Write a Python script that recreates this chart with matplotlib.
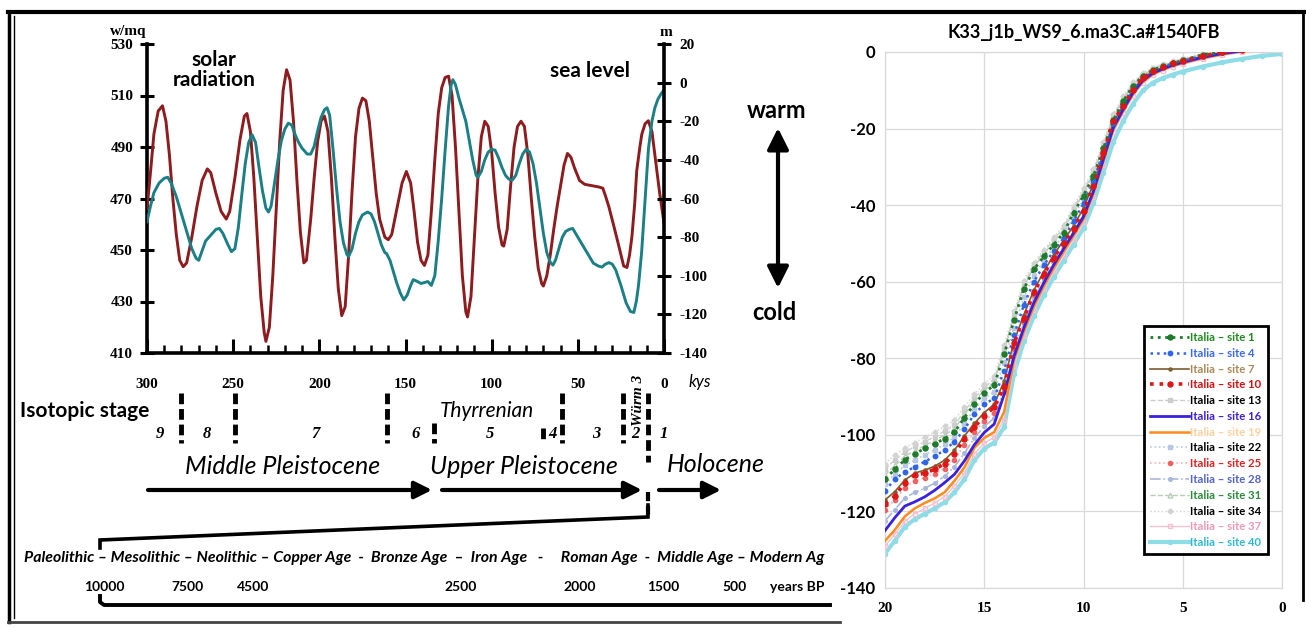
import matplotlib
matplotlib.use('Agg')
import matplotlib.pyplot as plt
import matplotlib.transforms as mtransforms
from matplotlib.ticker import MultipleLocator

plt.rcParams['axes.unicode_minus'] = False

W, H = 1306, 628
fig = plt.figure(figsize=(W / 100, H / 100), dpi=100)
fig.patch.set_facecolor('white')

SANS = ['Lato', 'DejaVu Sans']
SERIF = ['Liberation Serif', 'DejaVu Serif']

# ---------------- data: left chart ----------------
solar_ky = [300, 298, 296, 293.5, 291, 289, 287, 285, 283, 281, 279, 277, 274, 271, 268, 265, 263, 260,
            257, 254, 252, 249, 246, 243.5, 242, 240, 238, 236, 234, 232, 231, 229, 227, 225, 223, 221,
            219, 217, 215, 213, 211, 209, 207.5, 205, 203, 201, 199, 197, 195, 193, 191, 189, 187, 185,
            183, 181, 179, 177, 175, 173, 171, 169, 167, 165, 162, 160, 158, 155, 152, 149.5, 147, 145,
            143, 141, 139, 137, 135, 133, 131, 129, 127, 125, 123, 121, 119, 117, 115, 114, 112, 110,
            108, 106, 104, 102, 100, 98, 96, 94, 93, 91, 89, 87, 85, 83, 81, 79, 77, 75, 73, 71, 70,
            68, 66, 64, 62, 60, 58, 56, 54, 52, 49, 46, 42, 38, 35.5, 33.8, 32, 29, 26.2, 23.4, 21.5,
            20, 18.6, 17, 15.8, 14, 12.9, 11, 9.1, 7, 5.3, 4, 2.5, 0]
solar_wmq = [466, 480, 495, 504, 506, 500, 487, 470, 456, 446, 443.5, 445, 455, 467, 477, 481.5, 480, 472,
             465, 462, 465, 478, 493, 502, 503, 496, 478, 455, 432, 418, 414.5, 420, 440, 466, 492, 512,
             520, 516, 500, 477, 457, 445, 446, 462, 478, 492, 500, 502, 496, 478, 455, 435, 424.5, 428,
             448, 473, 494, 505, 509, 508, 500, 486, 472, 462, 455, 454, 456, 466, 476, 480.5, 476, 465,
             453, 446, 444, 448, 465, 485, 503, 513, 517, 517.5, 510, 490, 465, 440, 426, 424, 432, 455,
             478, 494, 500, 498, 488, 472, 459, 452, 451.5, 458, 475, 490, 498, 500, 498, 487, 470, 455,
             443, 437, 436, 440, 448, 458, 467, 475, 483, 487.5, 486, 482, 477, 475.5, 475, 474.5, 474,
             470.7, 466.8, 459, 451.5, 443.8, 443.2, 448, 455.3, 468, 480.9, 490, 494.9, 499, 500.2, 496,
             487, 480, 472, 460.5]

sea_ky = [300, 298, 296, 293, 290, 288, 286, 283, 280, 277, 274, 271.5, 270, 268, 266, 263, 260, 258, 256,
          253, 251, 249, 247, 245, 243, 241, 239, 237, 235, 233, 231, 229.5, 228, 226, 224, 222, 220, 218,
          216, 214, 212, 210, 207, 205, 203, 201, 199, 197, 195.5, 194, 192, 190, 188, 186, 184, 183, 181,
          179, 177, 175, 172, 170, 168, 166, 164, 162, 161, 159, 157, 155, 153, 151, 149, 147, 145.5, 143,
          141, 139, 137, 135, 133, 131, 129, 127, 125, 123.5, 122.5, 121, 119, 117, 115, 113, 111, 109,
          108, 106, 104, 102, 100, 98, 96, 94, 92, 90, 88, 86, 84, 82, 80, 78, 76, 74, 72, 70, 68, 66,
          64.5, 63, 61, 59, 57, 55, 53, 50, 46, 44, 41, 38, 36, 34, 32, 30, 28, 25, 22, 19.5, 17.5, 16,
          14.8, 13, 11, 9, 7, 5.3, 3.5, 1.5, 0]
sea_m = [-72, -64, -57, -52, -49.5, -49, -52, -59, -68, -77, -86, -91, -92, -87, -82, -79, -76, -75.5, -78,
         -84, -87.5, -86, -75, -58, -42, -31, -27, -31, -44, -56, -65, -67, -64, -52, -40, -30, -24, -21,
         -22, -27, -31, -34, -37, -37, -33, -25, -18, -14, -13, -17, -35, -55, -72, -83, -89, -90, -86,
         -78, -72, -68.5, -67, -68, -72, -78, -84, -88, -88.5, -92, -98, -104, -109, -112.5, -110, -105,
         -102, -103, -104, -103.5, -103, -105, -100, -82, -60, -35, -12, -1, 1.5, -1, -8, -14, -20, -30,
         -40, -48, -49, -46, -40, -36, -34.5, -35, -39, -44, -48, -50, -50.5, -48, -42, -37, -34.5, -36,
         -42, -52, -65, -78, -88, -93, -94.5, -92, -86, -80, -77, -76, -75.5, -80, -86, -89, -93.5, -95,
         -95.5, -94, -93.2, -94, -97, -105, -114, -118.5, -119, -113, -105, -88, -61, -34, -20, -13, -8.5,
         -5.5, -4]

stage_bounds_ky = [280.3, 248.9, 160.7, 133.5, 70.2, 59.2, 23.8, 9.3]
stage_names = ['9', '8', '7', '6', '5', '4', '3', '2', '1']
stage_label_ky = [292.5, 265.2, 202.5, 143.9, 101, 64.5, 39.4, 16.8, 0]

periods_text = ("Paleolithic – Mesolithic – Neolithic – Copper Age  -  Bronze Age  –  Iron Age   -     "
                "Roman Age  -  Middle Age – Modern Ag")
years_bp = ['10000', '7500', '4500', '2500', '2000', '1500', '500']

# ---------------- data: right chart ----------------
kyr = [20, 19.5, 19, 18.5, 18, 17.5, 17, 16.5, 16, 15.5, 15, 14.5, 14, 13.5, 13, 12.5, 12, 11.5, 11,
       10.5, 10, 9.5, 9, 8.5, 8, 7.5, 7, 6.5, 6, 5.5, 5, 4, 3, 2, 1, 0]
site_names = ['Italia – site 1', 'Italia – site 4', 'Italia – site 7', 'Italia – site 10',
              'Italia – site 13', 'Italia – site 16', 'Italia – site 19', 'Italia – site 22',
              'Italia – site 25', 'Italia – site 28', 'Italia – site 31', 'Italia – site 34',
              'Italia – site 37', 'Italia – site 40']
site1 = [-111.5, -109, -106.5, -105, -103.5, -102.3, -101, -99.3, -95.5, -92, -89, -87, -79, -70, -61.8,
         -56.8, -53.4, -50.3, -47.2, -42, -37.5, -32.4, -25.2, -17.8, -12.8, -8.8, -6.2, -4.7, -3.7, -2.9,
         -2.2, -0.7, 0.1, 0.8, 1.3, 1.3]
site4 = [-114.6, -111.6, -109.6, -108.4, -107, -105.6, -104, -101.8, -98.5, -94.6, -92, -90.5, -83.2, -74,
         -66, -60, -55.7, -52, -48.6, -44.2, -39.5, -33.8, -26, -18.6, -13.5, -9.4, -6.5, -4.9, -3.9, -3,
         -2.3, -1, 0, 0.7, 1.1, 1.2]
site7 = [-117, -114.8, -111.8, -110, -109.2, -108.2, -106.6, -104, -100.3, -97, -94.2, -92, -86, -75.5,
         -68.6, -62.2, -57.4, -53, -49.2, -45.4, -40.8, -34.4, -26.4, -18.4, -14, -9.8, -6.8, -5.1, -4,
         -3.1, -2.4, -1.1, -0.1, 0.5, 0.9, 1.0]
site10 = [-118, -116, -112.5, -110.5, -110, -109, -107.5, -105, -101, -98, -95, -92.8, -87.5, -76, -69.5,
          -62.8, -58, -53.7, -50, -46.2, -41.5, -35, -26.5, -18, -14.2, -9.8, -6.8, -5, -4, -3, -2.3,
          -1.1, 0, 0.6, 1, 1.1]
site13 = [-109, -106.5, -104.5, -103, -101.8, -100.5, -99, -97.4, -93.8, -90.4, -87.6, -85.4, -77.6,
          -68.6, -60.6, -55.6, -52.2, -49, -45.8, -40.8, -36.2, -31.2, -24, -16.8, -12, -8.2, -5.7, -4.3,
          -3.3, -2.6, -1.9, -0.5, 0.3, 1, 1.4, 1.4]
site16 = [-125, -121.6, -118.6, -117.5, -116.2, -114.5, -112.5, -110.3, -106.8, -102.6, -99.4, -97.2,
          -89.5, -79.5, -72, -65.5, -60.3, -55.6, -51.4, -47.3, -43, -36.4, -28, -19.8, -15, -10.6, -7.4,
          -5.5, -4.4, -3.4, -2.7, -1.4, -0.4, 0.3, 0.8, 1.0]
site19 = [-127.7, -124.8, -121.3, -119.2, -117.8, -116.6, -115, -112, -108.5, -103.4, -100.8, -99.3, -94,
          -80.5, -73, -66.5, -61.2, -56.5, -52.2, -48, -43.7, -37, -28.6, -20.3, -15.4, -11, -7.7, -5.8,
          -4.6, -3.6, -2.9, -1.6, -0.6, 0.2, 0.7, 0.9]
site22 = [-112.8, -110.2, -108, -106.6, -105.2, -104, -102.5, -100.5, -97, -93.3, -90.5, -88.7, -81, -72,
          -64, -58.4, -54.5, -51, -47.8, -43, -38.5, -33, -25.6, -18.2, -13.1, -9.1, -6.3, -4.8, -3.8,
          -2.9, -2.2, -0.8, 0, 0.8, 1.2, 1.2]
site25 = [-119.5, -117, -113.8, -112, -111.2, -110.2, -108.8, -106.5, -102.6, -99.3, -96.4, -94.2, -88.8,
          -77.5, -70.5, -63.6, -58.8, -54.4, -50.6, -46.8, -42.2, -35.6, -27, -18.8, -14.6, -10.1, -7,
          -5.2, -4.1, -3.2, -2.5, -1.2, -0.2, 0.5, 0.9, 1.0]
site28 = [-122.5, -119.5, -116.5, -115, -114, -112.6, -110.8, -108.3, -104.8, -100.8, -97.8, -95.6, -88.6,
          -78.5, -71.2, -64.5, -59.5, -55, -51, -47, -42.6, -36, -27.6, -19.4, -14.8, -10.4, -7.2, -5.4,
          -4.3, -3.3, -2.6, -1.3, -0.3, 0.4, 0.8, 1.0]
site31 = [-110.5, -108, -105.6, -104.2, -102.8, -101.5, -100, -98.4, -94.7, -91.2, -88.3, -86.2, -78.3,
          -69.3, -61.2, -56.2, -52.8, -49.6, -46.5, -41.4, -36.8, -31.8, -24.6, -17.3, -12.4, -8.5, -6,
          -4.5, -3.5, -2.7, -2, -0.6, 0.2, 0.9, 1.3, 1.3]
site34 = [-107.5, -105.2, -103.4, -102, -100.6, -99.3, -97.8, -96.2, -92.6, -89.4, -86.6, -84.5, -76.6,
          -67.6, -59.8, -55, -51.6, -48.4, -45.2, -40.2, -35.6, -30.6, -23.4, -16.2, -11.6, -7.9, -5.4,
          -4.1, -3.1, -2.4, -1.7, -0.4, 0.4, 1.1, 1.5, 1.5]
site37 = [-129, -126, -122.6, -120.6, -119.2, -117.8, -116.2, -113.4, -110, -105, -102.2, -100.6, -96,
          -82, -74, -67.5, -62, -57.3, -53, -48.8, -44.5, -37.8, -29.4, -21, -16, -11.5, -8.1, -6.1, -4.9,
          -3.9, -3.2, -1.9, -0.9, -0.1, 0.5, 0.8]
site40 = [-131, -127.6, -124, -122, -120.6, -119.2, -117.6, -115, -111.6, -106.6, -103.6, -102, -98, -84,
          -75.5, -69, -63.5, -58.8, -54.5, -50.3, -46, -39.5, -31.5, -23.5, -18, -13.5, -10, -8, -6.8,
          -5.9, -5.1, -3.8, -2.7, -1.8, -1, -0.5]
site_values = [site1, site4, site7, site10, site13, site16, site19, site22, site25, site28, site31,
               site34, site37, site40]

# ---------------- styles ----------------
RED = '#8E1B1E'
TEAL = '#1B7F86'
site_styles = [
    dict(color='#1F7A2A', ls=':', marker='o', ms=3.6, lw=2.0, z=8),
    dict(color='#2F66E6', ls=':', marker='o', ms=3.2, lw=1.8, z=7),
    dict(color='#7D5E2E', ls='-', marker='o', ms=2.2, lw=1.2, z=6),
    dict(color='#E01515', ls=':', marker='o', ms=3.6, lw=2.6, z=9),
    dict(color='#CCCCCC', ls='--', marker='s', ms=2.6, lw=1.0, z=2),
    dict(color='#3A22DD', ls='-', marker='', ms=0, lw=2.0, z=6),
    dict(color='#FF8A1E', ls='-', marker='', ms=0, lw=1.8, z=5),
    dict(color='#B9C8E2', ls=':', marker='s', ms=2.6, lw=1.2, z=2),
    dict(color='#F6B4B4', ls=':', marker='o', ms=3.0, lw=1.2, z=3, mfc='#F06060'),
    dict(color='#A9B8DA', ls='-.', marker='o', ms=2.6, lw=1.2, z=2),
    dict(color='#B9CDB9', ls='--', marker='^', ms=3.5, lw=1.0, z=2, mfc='none'),
    dict(color='#D3D3D3', ls=':', marker='D', ms=2.6, lw=1.0, z=2),
    dict(color='#F2C2D2', ls='-', marker='s', ms=3.5, lw=1.0, z=3, mfc='none'),
    dict(color='#8EDCE6', ls='-', marker='o', ms=3, lw=3.0, z=1),
]
legend_text_colors = ['#1E8A1E', '#3A6AE8', '#A8895A', '#D01010', '#000000', '#4020D0', '#FFD0A0',
                      '#000000', '#E02020', '#5464C8', '#2A8A3A', '#000000', '#EC9AB2', '#30B8D0']

# ---------------- overlay (pixel coordinates) ----------------
ov = fig.add_axes([0, 0, 1, 1], zorder=-1)
ov.set_xlim(0, W)
ov.set_ylim(H, 0)
ov.axis('off')

# ---------------- left chart ----------------
ax1 = fig.add_axes([147 / W, 1 - 353 / H, (664 - 147) / W, (353 - 44) / H])
ax1.patch.set_alpha(0)
ax1.set_xlim(300, 0)
ax1.set_ylim(410, 530)
ax2 = ax1.twinx()
ax2.set_ylim(-140, 20)

ax1.plot(solar_ky, solar_wmq, color=RED, lw=2.1, solid_joinstyle='round', zorder=3)
ax2.plot(sea_ky, sea_m, color=TEAL, lw=2.1, solid_joinstyle='round', zorder=2)

for a in (ax1, ax2):
    for s in a.spines.values():
        s.set_linewidth(2.6)
    a.spines['top'].set_visible(False)
ax1.spines['right'].set_visible(False)
ax2.spines['left'].set_visible(False)
ax2.spines['bottom'].set_visible(False)

ax1.set_yticks(range(410, 531, 20))
ax2.set_yticks(range(-140, 21, 20))
ax1.set_xticks(range(300, -1, -50))
ax1.xaxis.set_minor_locator(MultipleLocator(10))
ax1.tick_params(axis='y', direction='inout', length=10, width=2.2, pad=5)
ax2.tick_params(axis='y', direction='inout', length=10, width=2.2, pad=6)
ax1.tick_params(axis='x', which='major', direction='in', length=10, width=2.2, pad=18)
ax1.tick_params(axis='x', which='minor', direction='in', length=6, width=1.8)
for lab in ax1.get_yticklabels() + ax2.get_yticklabels() + ax1.get_xticklabels():
    lab.set_fontfamily(SERIF)
    lab.set_fontweight('bold')
    lab.set_fontsize(11)

ov.text(128, 31, 'w/mq', ha='center', va='center', fontsize=11, fontweight='bold', family=SERIF)
ov.text(666, 32, 'm', ha='center', va='center', fontsize=11, fontweight='bold', family=SERIF)
ov.text(700, 382, 'kys', ha='center', va='center', fontsize=12, style='italic', family=SANS)
ov.text(214, 70, 'solar\nradiation', ha='center', va='center', fontsize=15, fontweight='bold',
        family=SANS, linespacing=0.95)
ov.text(590, 71, 'sea level', ha='center', va='center', fontsize=15, fontweight='bold', family=SANS)
ov.text(777, 111, 'warm', ha='center', va='center', fontsize=17, fontweight='bold', family=SANS)
ov.text(774, 313, 'cold', ha='center', va='center', fontsize=17, fontweight='bold', family=SANS)
ov.annotate('', xy=(778, 128), xytext=(778, 288),
            arrowprops=dict(arrowstyle='<|-|>', lw=3, color='black', mutation_scale=32, shrinkA=0, shrinkB=0))

# timeline below the left chart
tb = mtransforms.blended_transform_factory(ax1.transData, ov.transData)
stage_y = [(393, 443), (393, 443), (393, 443), (423, 443), (428, 443), (393, 443), (393, 443), (393, 462)]
for ky, (y0, y1) in zip(stage_bounds_ky, stage_y):
    ov.plot([ky, ky], [y0, y1], transform=tb, color='black', lw=3.5, ls=(0, (2.2, 1.0)),
            solid_capstyle='butt')
for name, ky in zip(stage_names, stage_label_ky):
    ov.text(ky, 434, name, transform=tb, ha='center', va='center', fontsize=12, style='italic',
            fontweight='bold', family=SERIF)
ov.text(20, 411, 'Isotopic stage', ha='left', va='center', fontsize=15, fontweight='bold', family=SANS)
ov.text(487, 411, 'Thyrrenian', ha='center', va='center', fontsize=15, style='italic', family=SANS)
ov.text(638, 400, 'Würm 3', ha='center', va='center', fontsize=11, style='italic', fontweight='bold',
        family=SERIF, rotation=90)
ov.text(283, 466, 'Middle Pleistocene', ha='center', va='center', fontsize=18, style='italic',
        family=SANS)
ov.text(524, 466, 'Upper Pleistocene', ha='center', va='center', fontsize=18, style='italic', family=SANS)
ov.text(716, 465, 'Holocene', ha='center', va='center', fontsize=18, style='italic', family=SANS)
for x0, x1 in [(148, 432), (442, 642), (659, 721)]:
    ov.annotate('', xy=(x1, 490), xytext=(x0, 490),
                arrowprops=dict(arrowstyle='-|>', lw=3, color='black', mutation_scale=26,
                                shrinkA=0, shrinkB=0))
# bracket down to the historical scale
ov.plot([648, 648], [492, 517], color='black', lw=3, ls=(0, (2.2, 1.0)))
ov.plot([648, 648, 100, 100], [505, 517, 540, 548], color='black', lw=2.6, solid_joinstyle='miter')
ov.text(24, 558, periods_text, ha='left', va='center', fontsize=11.4, style='italic', fontweight='bold',
        family=SANS)
for lab, x in zip(years_bp + ['years BP'], [104, 187, 253, 461, 580, 663, 735, 797]):
    ov.text(x, 587, lab, ha='center', va='center', fontsize=10, fontweight='bold', family=SANS)
ov.plot([100, 100, 104, 830], [596, 602, 605, 605], color='black', lw=2.8, solid_joinstyle='round')

# frame
ov.plot([8, W], [12, 12], color='black', lw=3)
ov.plot([9, 9], [12, 622], color='black', lw=2.5)
ov.plot([14, 14], [16, 618], color='black', lw=1)
ov.plot([8, 840], [622, 622], color='#444444', lw=2)
ov.plot([1303, 1303], [12, 600], color='black', lw=2)

# ---------------- right chart ----------------
ax3 = fig.add_axes([885 / W, 1 - 588 / H, (1282 - 885) / W, (588 - 52) / H])
ax3.set_xlim(20, 0)
ax3.set_ylim(-140, 0)
handles = []
for vals, st, name in zip(site_values, site_styles, site_names):
    mfc = st.get('mfc', st['color'])
    h, = ax3.plot(kyr, vals, color=st['color'], ls=st['ls'], lw=st['lw'], marker=st['marker'] or None,
                  ms=st['ms'], mfc=mfc, mec=st['color'] if mfc == 'none' else mfc,
                  zorder=st['z'], label=name)
    handles.append(h)
ax3.set_xticks([20, 15, 10, 5, 0])
ax3.set_yticks(range(-140, 1, 20))
ax3.grid(True, color='#D9D9D9', lw=0.9)
ax3.set_axisbelow(True)
for s in ax3.spines.values():
    s.set_color('#D9D9D9')
    s.set_linewidth(0.9)
ax3.tick_params(length=0, pad=7)
for lab in ax3.get_yticklabels():
    lab.set_fontfamily(SANS)
    lab.set_fontweight('bold')
    lab.set_fontsize(12)
for lab in ax3.get_xticklabels():
    lab.set_fontfamily(SERIF)
    lab.set_fontweight('bold')
    lab.set_fontsize(11)
ax3.tick_params(axis='x', pad=10)
ax3.set_title('K33_j1b_WS9_6.ma3C.a#1540FB', fontsize=13, fontweight='bold', family=SANS, pad=10)

leg = ax3.legend(handles=handles, loc='upper left', bbox_to_anchor=(0.638, 0.5),
                 handlelength=3.4, handletextpad=0.1, labelspacing=0.42, borderpad=0.55,
                 fancybox=False, framealpha=1, edgecolor='black',
                 prop={'family': SANS, 'weight': 'bold', 'size': 8.2})
leg.get_frame().set_linewidth(2)
for t, c in zip(leg.get_texts(), legend_text_colors):
    t.set_color(c)

fig.savefig('out.png', dpi=100)
